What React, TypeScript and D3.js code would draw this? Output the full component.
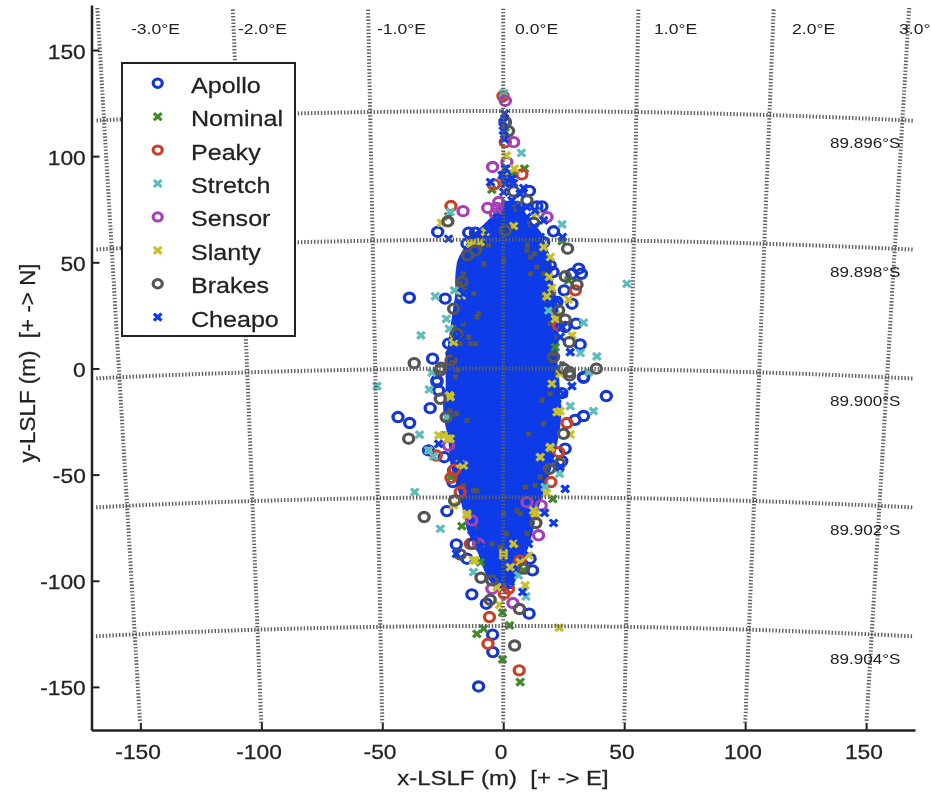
import React, { useRef, useEffect } from 'react';
import * as d3 from 'd3';

type Pt = [number, number];

const seriesNames = ['Apollo', 'Nominal', 'Peaky', 'Stretch', 'Sensor', 'Slanty', 'Brakes', 'Cheapo'];
const seriesColors = ['#1438cc', '#3f8a2c', '#c9412a', '#5fbcbc', '#a640b8', '#c9c02e', '#555555', '#0a3ae8'];
const seriesRing = [true, false, true, false, true, false, true, false];

// values, in metres
const apollo: Pt[] = [[-27.1,64.3],[-14.3,64],[-11.5,64],[10.8,83.6],[16,76.3],[13.9,76.3],[20.8,64.6],[16.7,59.5],[0.85,91],[-15,58.8],[19.4,48.6],[20.6,45.4],[31.2,47],[32.3,44.6],[28.4,44.6],[25.2,36.8],[-38.8,33.3],[-24,32.9],[-16.4,49.3],[28.4,30.5],[30.1,21.1],[25.6,19.5],[31.8,11.3],[-22.6,11.7],[-29.2,4.6],[33.2,-4],[-27.4,-5.6],[0.85,116],[-21.2,6.9],[22.2,31.3],[-27.4,-6.4],[-26.7,-10.4],[-30.2,-18.7],[-43.5,-22.9],[-38.7,-25.7],[33.2,-4.4],[42.6,-13],[33.2,-22.4],[29.7,-24.2],[25.6,-37.8],[24.2,-43.6],[-30.9,-38.6],[-24.4,-41.8],[-20.5,-48],[-20.8,-53.5],[-23.3,-67.2],[-19.4,-82.9],[-15,-89.6],[11.1,-89.6],[12.1,-95.1],[-13,-106.4],[-7,-110.8],[10.7,-115.5],[-4.4,-125.4],[-4.3,-133.6],[-10.2,-149.8],[1.5,-96.7],[24.2,-11.6]];
const nominal: Pt[] = [[-4.7,84.2],[8.8,94.1],[4.3,91.7],[0.85,111.3],[24.3,60],[27,41.5],[-22.6,71.6],[21.5,10],[-0.3,-115],[2.6,-121],[-8.1,-122.6],[-10.9,-125],[-0.3,-137],[7,-147.7],[-17.1,-74.3],[20.5,-61.4],[-9.5,-91.2],[8.4,-95.1],[-21.6,-51.2]];
const peaky: Pt[] = [[-0.1,128.3],[0.85,106.6],[7.7,91.4],[-3.7,86.7],[-21.6,76.5],[29.8,36.8],[22.9,20.3],[26.3,-25.7],[22.9,-39.4],[-27.7,-41],[-20.1,-47.7],[-21.6,-51.5],[-17.8,-58.2],[19.7,-53.5],[-13.6,-82.6],[7,-90.4],[0.4,-106.1],[-5.7,-117.1],[-6.3,-129.7],[6.6,-142.2],[2.2,-103.8]];
const stretch: Pt[] = [[0.2,129.7],[7.5,101.5],[-21.9,73.7],[24.3,67.9],[51.1,39.9],[-28.1,34],[-23.5,23.4],[-22.3,18.7],[-34,15.6],[38.7,5.7],[-29.5,-2],[33.2,21.6],[31.9,7.3],[18.8,27.4],[-20.2,36.8],[35.3,-1.7],[-52.2,-8.3],[-30.6,-9.9],[-23.3,-22.9],[-34.6,-31.2],[-30.9,-38.6],[-28.8,-41.4],[27.7,-17.7],[37.3,-20.1],[-36.6,-58.2],[-26,-75.5],[-12.3,-95.9],[23.3,-49.6],[17.3,-55.9],[9.4,-107.4],[6.3,-97.5]];
const sensor: Pt[] = [[0.85,126],[4.3,106.6],[1.5,97.2],[-4.4,94.9],[-16.6,74.1],[-6.4,75.6],[-2.6,75.6],[-1.9,78.4],[18.1,71.3],[-3.3,72.9],[15.7,-64.5],[14.6,-78.6],[4,-110.5],[-4.7,-103.8],[-10.2,-82.6],[9.8,-63],[-13,-71.6],[-22.6,-36.3]];
const slanty: Pt[] = [[1.3,100.4],[4.6,94.1],[-25.6,68.6],[-7.4,64.3],[-12.5,59.1],[4.3,67.1],[13.7,72.9],[16.7,57.2],[19.5,52.5],[19,43.1],[20.1,38],[27,32.4],[28.4,15.6],[-17.1,34.4],[-20.5,12.4],[21.5,23.4],[-23,-33.1],[-26.7,-31.5],[-17.8,-44.9],[-22.2,-12.7],[18,-58.7],[13.2,-68.4],[-15,-69.2],[-11.6,-90.4],[0.1,-87],[9.1,-102.2],[-1.5,-111.3],[23.1,-122.1],[10.5,-88.1],[19.4,-37.4],[23.5,-20.1],[27.7,-31.1],[-2.6,-103],[-20.5,-64.5],[-24.7,-31.5],[-21.9,-33.1],[-21.9,-13.5],[22.2,-20.6],[23.5,-2.5],[20.1,-7.2],[-16.4,-45.7],[-15,-68.4],[-12.3,-90.4],[0.1,-88.1],[4.3,-82.6],[7,-91.2],[2.9,-93.6],[15.3,-41.8],[19.4,-37],[12.5,-66.9],[13.9,-70],[-20.5,14.3],[-9.5,59.5],[-13.6,58.8],[18,34],[22,25]];
const brakes: Pt[] = [[0.7,116],[2.2,111.8],[1.5,88.6],[4.3,83.4],[-22.9,69.3],[9.8,79.2],[12.6,68.6],[26.6,56.4],[25.6,43.4],[30.5,39.5],[22.9,27.4],[25.6,23],[27.3,12.4],[-19.1,16.4],[-36.8,2.5],[-25.7,0.4],[-21.6,3.8],[38.5,-0.1],[25,-0.1],[27.3,-1.7],[-11.5,55.6],[-14.7,53.3],[-17.1,40.7],[-20.5,28.1],[20.8,5.4],[0.85,65],[6.4,76],[-26,-14.3],[-23.6,-22.9],[-39.1,-33.1],[24.9,-30.8],[23.3,-44.9],[19.1,-47.3],[-20.1,-62.2],[-32.7,-70],[13.5,-72.8],[-12.5,-82.6],[-17.8,-87.6],[-9.2,-98.6],[-5.4,-109],[6.7,-113.3],[4.7,-130.5],[27.4,-3.3],[-26,-0.9],[8.4,-94.3],[-4.7,-99.8]];
const cheapo: Pt[] = [[0.6,120],[-5.3,87.8],[-22.6,61.1],[24.5,61.9],[0.85,94.1],[4.3,87.3],[8.4,85],[0.2,83.1],[2.2,76.8],[23.6,14.8],[-17.7,23.4],[27.7,7.7],[11.2,63.5],[25.6,-56.7],[20.8,-72.8],[17.1,-68],[28.4,-8.3],[8,-105.3],[-19.4,-87.3],[-26.7,-35.5],[-19.8,-40.2],[23.5,-46.5],[2.9,-100.6],[10.5,-82.6],[19.4,-42.5],[0,116],[0,112],[0.5,108],[-4,68.2],[-6,65],[-2.6,69.7],[2.2,76],[7,74.5],[9.8,71.3],[12.6,66.6],[15.3,61.9],[-1.2,71.3],[4.3,71.3],[9.8,76],[13.2,74.5],[16.7,69.7],[7,82.3],[3.6,79.2],[0.85,87],[-0.5,91],[3.6,89.4],[-17.8,-43.3],[-13,-76.3],[-9.5,-84.1],[-12.3,-79.4],[-4,-93.6],[-1.3,-96.7],[8.4,-85.7],[7,-81],[24.9,-11.9],[22.2,-16.6],[-16.4,35.2],[-19.1,14.8],[19.4,30.5],[22.2,32.1],[24.3,19.5],[-19.1,7],[-15,47.8]];
const seriesPoints = [apollo, nominal, peaky, stretch, sensor, slanty, brakes, cheapo];

// the middle is thousands of overlapping markers, so it is kept as its outline: y, left x, right x
const coreY = [78, 70, 63.5, 60.3, 57.2, 50.9, 43.1, 35.2, 27.4, 19.5, 11.7, 3.8, -0.9, -8.8, -16.6, -24.5, -32.3, -44.9, -54.3, -68.4, -76.3, -85.7, -95.1, -103];
const coreLeft = [0, -5, -11, -13.5, -15, -18, -19, -19, -20, -21, -22, -22.5, -23, -23, -24, -23.5, -22, -21, -18.5, -15.5, -14, -10, -7, -3];
const coreRight = [6, 10, 15, 16, 17, 19, 19.5, 20.5, 22, 22, 22, 21.5, 22, 22.5, 23, 23, 22, 19.5, 17, 13, 11.5, 9, 6, 3];
// grey flecks of Brakes markers showing through the middle
const coreSpecks: Pt[] = [[-10.9,24.2],[-13.6,11.7],[-8.1,49.3],[0.2,50.9],[11.2,44.6],[-15,-24.5],[-19.2,-21.3],[16,-15],[16.6,-26],[10.5,-30.8],[-10.9,-57.5],[0.1,-68.4],[5.6,-66.9],[1.5,-77.9],[9.1,-55.9],[-16.4,44.6],[-17.7,40],[-15.7,36.8],[-12.2,35.2],[-10.2,25.8],[-16.4,21.1],[-20.5,19.5],[-14.3,14.8],[-11.5,11.7],[-17.7,11.7],[-21.2,3.8],[-19.1,-0.9],[-19.8,-4],[16.7,35.2],[18.1,32.1],[20.8,35.2],[19.4,21.1],[22.2,14.8],[20.8,6.9],[24.3,2.2],[25.6,-2.5],[16.7,44.6],[13.9,47.8],[11.2,52.5],[9.8,55.6],[-19.8,-21.3],[-21.9,-19.8],[-24.7,-30.8],[-21.2,-37.8],[-17.8,-43.3],[-16.4,-55.1],[-12.3,-57.5],[-14.3,-70],[-11.6,-74.7],[-4.7,-82.6],[-1.3,-84.1],[22.2,-2.5],[19.4,-11.9],[20.1,-38.6],[18,-46.5],[15.3,-51.2],[13.2,-55.1],[7,-68.4],[9.8,-77.9],[5.6,-82.6],[-9.5,57],[-6,58],[10,58],[13,54]];

const xTicks = [-150, -100, -50, 0, 50, 100, 150];
const yTicks = [-150, -100, -50, 0, 50, 100, 150];
const meridians = [-3, -2, -1, 0, 1, 2, 3];
const parallels = [89.896, 89.898, 89.9, 89.902, 89.904];
const lonLabels = ['-3.0°E', '-2.0°E', '-1.0°E', '0.0°E', '1.0°E', '2.0°E', '3.0°'];
const lonLabelX = [131, 238, 377, 515, 654, 792, 899];
const latLabels = ['89.896°S', '89.898°S', '89.900°S', '89.902°S', '89.904°S'];
const latLabelY = [148, 277, 406, 535, 664];

const FONT = '"Liberation Sans", Arial, sans-serif';
const METRES_PER_DEG = 30317;
const INK = '#222';
// the reference is stretched sideways, text and markers included
const WIDE = 1.14;
const MARK_WIDE = 1.08;

const App = () => {
  const svgRef = useRef<SVGSVGElement>(null);

  useEffect(() => {
    const svg = d3.select(svgRef.current);
    svg.selectAll('*').remove();

    const x = d3.scaleLinear().domain([-170.2, 170.2]).range([91.5, 915]);
    const y = d3.scaleLinear().domain([-170.3, 171.2]).range([730, 5]);

    const defs = svg.append('defs');
    defs.append('filter').attr('id', 'soft').append('feGaussianBlur').attr('stdDeviation', 0.45);
    defs.append('clipPath').attr('id', 'grid-clip').append('rect')
      .attr('x', 95).attr('y', 8).attr('width', 818).attr('height', 715);

    const root = svg.append('g').attr('filter', 'url(#soft)');

    const ring = d3.symbol(d3.symbolCircle, 68)();
    const cross = d3.symbol(d3.symbolX, 34)();
    const drawSeries = (i: number) => {
      root.append('g').selectAll('path').data(seriesPoints[i]).join('path')
        .attr('d', seriesRing[i] ? ring : cross)
        .attr('transform', d => `translate(${x(d[0])},${y(d[1])}) scale(${MARK_WIDE},1)`)
        .attr('fill', 'none')
        .attr('stroke', seriesColors[i])
        .attr('stroke-width', 3.1);
    };

    const coreArea = d3.area<number>()
      .y(d => y(d))
      .x0((d, i) => x(coreLeft[i]))
      .x1((d, i) => x(coreRight[i]))
      .curve(d3.curveCatmullRom);
    root.append('path').attr('d', coreArea(coreY)).attr('fill', seriesColors[7])
      .attr('stroke', seriesColors[7]).attr('stroke-width', 4);
    root.append('g').selectAll('path').data(coreSpecks).join('path')
      .attr('d', d3.symbol(d3.symbolX, 14)())
      .attr('transform', d => `translate(${x(d[0])},${y(d[1])})`)
      .attr('stroke', '#555').attr('stroke-width', 2.6);

    d3.range(0, 8).forEach(drawSeries);

    // polar graticule around the south pole
    const r0 = (90 - 89.9) * METRES_PER_DEG;
    const project = (lon: number, lat: number): [number, number] => {
      const r = (90 - lat) * METRES_PER_DEG;
      const a = lon * Math.PI / 180;
      return [x(r * Math.sin(a)), y(r * Math.cos(a) - r0)];
    };
    const line = d3.line();
    const grid = root.append('g').attr('clip-path', 'url(#grid-clip)')
      .attr('fill', 'none').attr('stroke', '#5e5e5e')
      .attr('stroke-width', 4).attr('stroke-dasharray', '1.4 1.9');
    grid.selectAll('path.mer').data(meridians).join('path').attr('class', 'mer')
      .attr('d', lon => line(d3.range(89.89, 89.91, 0.002).map(lat => project(lon, lat))));
    grid.selectAll('path.par').data(parallels).join('path').attr('class', 'par')
      .attr('d', lat => line(d3.range(-3.8, 3.81, 0.1).map(lon => project(lon, lat))));

    root.append('g').selectAll('text').data(lonLabels).join('text')
      .attr('transform', (d, i) => `translate(${lonLabelX[i]},34) scale(${WIDE},1)`)
      .attr('font-size', 15.4).attr('font-family', FONT).attr('fill', INK)
      .text(d => d);
    root.append('g').selectAll('text').data(latLabels).join('text')
      .attr('transform', (d, i) => `translate(830,${latLabelY[i]}) scale(${WIDE},1)`)
      .attr('font-size', 15).attr('font-family', FONT).attr('fill', INK)
      .text(d => d);

    // axes
    const styleAxis = (g: any) => {
      g.selectAll('path').attr('stroke', INK).attr('stroke-width', 2.5);
      g.selectAll('line').attr('stroke', INK).attr('stroke-width', 2);
      g.selectAll('text').attr('font-size', 20).attr('font-family', FONT).attr('fill', INK)
        .attr('stroke', INK).attr('stroke-width', 0.25)
        .attr('transform', `scale(${WIDE},1)`);
    };
    root.append('g').attr('transform', 'translate(0,730)')
      .call(d3.axisBottom(x).tickValues(xTicks).tickFormat(String).tickSize(-7).tickSizeOuter(0).tickPadding(14.8))
      .call(styleAxis)
      .call((g: any) => g.selectAll('text').attr('dx', '-0.12em'));
    root.append('g').attr('transform', 'translate(91.5,0)')
      .call(d3.axisLeft(y).tickValues(yTicks).tickFormat(String).tickSize(-8).tickSizeOuter(0).tickPadding(5))
      .call(styleAxis)
      .call((g: any) => g.selectAll('text').attr('dy', '0.4em'));

    root.append('text').attr('transform', `translate(503,785) scale(${WIDE},1)`).attr('text-anchor', 'middle')
      .attr('font-size', 21).attr('font-family', FONT).attr('fill', INK)
      .attr('stroke', INK).attr('stroke-width', 0.25)
      .attr('xml:space', 'preserve').text('x-LSLF (m)  [+ -> E]');
    root.append('text').attr('transform', 'translate(35,363) rotate(-90)').attr('text-anchor', 'middle')
      .attr('font-size', 22.4).attr('font-family', FONT).attr('fill', INK)
      .attr('stroke', INK).attr('stroke-width', 0.25)
      .attr('xml:space', 'preserve').text('y-LSLF (m)  [+ -> N]');

    // legend
    const legend = root.append('g');
    legend.append('rect').attr('x', 122).attr('y', 63).attr('width', 173).attr('height', 273)
      .attr('fill', '#fff').attr('stroke', INK).attr('stroke-width', 2);
    const rows = legend.selectAll('g').data(seriesNames).join('g')
      .attr('transform', (d, i) => `translate(0,${83.3 + i * 33.4})`);
    rows.append('path')
      .attr('d', (d, i) => seriesRing[i] ? d3.symbol(d3.symbolCircle, 55)() : cross)
      .attr('transform', `translate(157.7,0) scale(${MARK_WIDE},1)`)
      .attr('fill', 'none')
      .attr('stroke', (d, i) => seriesColors[i])
      .attr('stroke-width', 3);
    rows.append('text').attr('transform', `translate(191,9.5) scale(${WIDE},1)`)
      .attr('font-size', 22).attr('font-family', FONT).attr('fill', INK)
      .attr('stroke', INK).attr('stroke-width', 0.25)
      .text(d => d);
  }, []);

  return <svg ref={svgRef} width={932} height={794} style={{ position: 'absolute', left: 0, top: 0, display: 'block', background: '#fff' }}></svg>;
};

export default App;
